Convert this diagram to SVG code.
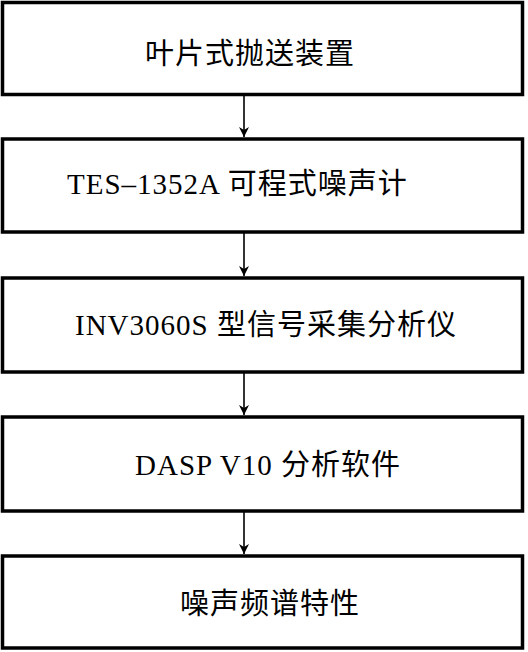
<svg xmlns="http://www.w3.org/2000/svg" width="528" height="652" viewBox="0 0 528 652">
<style>
.box{fill:#fff;stroke:#000;stroke-width:3.5}
.t{font-family:"Liberation Serif","Noto Sans CJK SC",serif;font-size:29px;letter-spacing:1px;fill:#000}
.c{stroke:#000;stroke-width:1.6;fill:none}
</style>
<defs>
<marker id="ah" viewBox="0 0 10 14" refX="10" refY="7" markerWidth="10" markerHeight="14" markerUnits="userSpaceOnUse" orient="auto">
<path d="M0,2 L10,7 L0,12 L3,7 Z" fill="#000"/>
</marker>
</defs>
<rect width="528" height="652" fill="#fff"/>
<g id="connectors">
<line class="c" x1="244" y1="95" x2="244" y2="137" marker-end="url(#ah)"/>
<line class="c" x1="244" y1="232" x2="244" y2="276" marker-end="url(#ah)"/>
<line class="c" x1="244" y1="372" x2="244" y2="415" marker-end="url(#ah)"/>
<line class="c" x1="244" y1="511" x2="244" y2="554" marker-end="url(#ah)"/>
</g>
<g id="n1"><rect class="box" x="2.5" y="2.5" width="520" height="92"/><text class="t" x="145" y="64">叶片式抛送装置</text></g>
<g id="n2"><rect class="box" x="2.5" y="139" width="520" height="93"/><text class="t" x="67" y="194">TES–1352A  可程式噪声计</text></g>
<g id="n3"><rect class="box" x="2.5" y="278" width="520" height="94"/><text class="t" x="75" y="335">INV3060S 型信号采集分析仪</text></g>
<g id="n4"><rect class="box" x="2.5" y="417" width="520" height="94"/><text class="t" x="135" y="475">DASP V10 分析软件</text></g>
<g id="n5"><rect class="box" x="2.5" y="556" width="520" height="92"/><text class="t" x="180" y="614">噪声频谱特性</text></g>
</svg>
